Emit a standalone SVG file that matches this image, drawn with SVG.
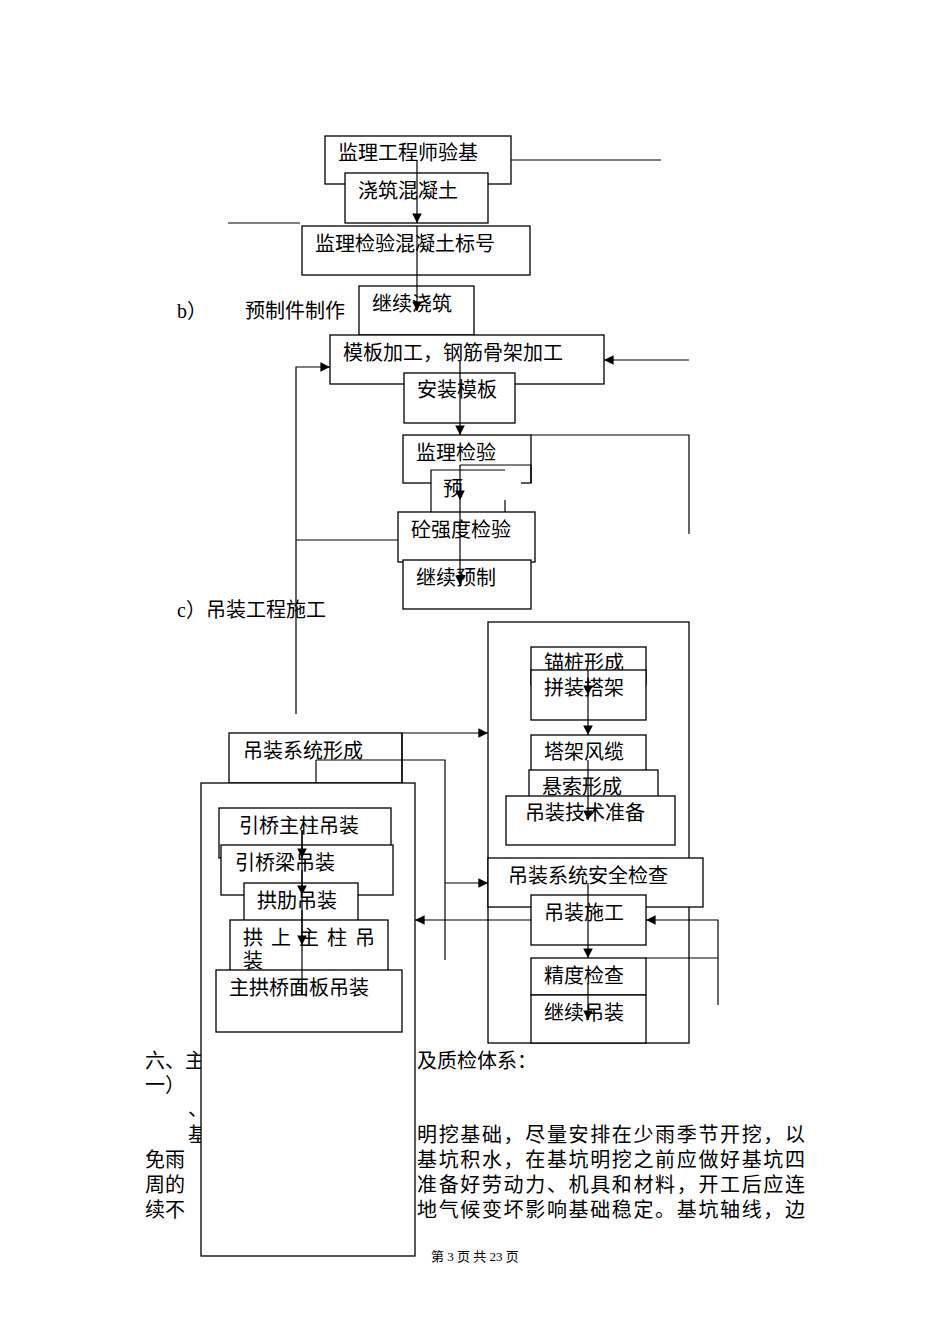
<svg xmlns="http://www.w3.org/2000/svg" width="950" height="1344" viewBox="0 0 950 1344">
<style>
.b{fill:#fff;stroke:#000;stroke-width:1.3}
.t{font-family:"Liberation Serif","Noto Sans CJK SC",serif;font-size:20px;fill:#000}
.l{stroke:#000;stroke-width:1.2;fill:none}
</style>
<defs><marker id="a" viewBox="0 0 10 10" refX="10" refY="5" markerWidth="8" markerHeight="8" orient="auto"><path d="M0,0L10,5L0,10z"/></marker></defs>
<rect width="950" height="1344" fill="#fff"/>
<g id="body">
<text class="t" x="145" y="1068">六、主</text>
<text class="t" x="417" y="1068">及质检体系：</text>
<text class="t" x="145" y="1092">一）</text>
<text class="t" x="188" y="1116">、</text>
<text class="t" x="188" y="1142">基</text>
<text class="t" x="417" y="1142" textLength="388">明挖基础，尽量安排在少雨季节开挖，以</text>
<text class="t" x="145" y="1167">免雨</text>
<text class="t" x="417" y="1167" textLength="388">基坑积水，在基坑明挖之前应做好基坑四</text>
<text class="t" x="145" y="1192">周的</text>
<text class="t" x="417" y="1192" textLength="388">准备好劳动力、机具和材料，开工后应连</text>
<text class="t" x="145" y="1217">续不</text>
<text class="t" x="417" y="1217" textLength="388">地气候变坏影响基础稳定。基坑轴线，边</text>
<text x="475" y="1261" text-anchor="middle" style="font-family:'Liberation Serif','Noto Sans CJK SC',serif;font-size:13px">第 3 页 共 23 页</text>
</g>
<g id="labels">
<text class="t" x="177" y="318">b）</text>
<text class="t" x="245" y="318">预制件制作</text>
<text class="t" x="177" y="617">c）吊装工程施工</text>
</g>
<g id="n1"><rect class="b" x="325" y="136" width="186" height="48"/><text class="t" x="338" y="160">监理工程师验基</text></g>
<g id="n2"><rect class="b" x="345" y="173" width="143" height="50"/><text class="t" x="358" y="198">浇筑混凝土</text></g>
<g id="n3"><rect class="b" x="302" y="226" width="228" height="49"/><text class="t" x="315" y="251">监理检验混凝土标号</text></g>
<g id="n4"><rect class="b" x="359" y="286" width="115" height="49"/><text class="t" x="372" y="311">继续浇筑</text></g>
<g id="n5"><rect class="b" x="330" y="335" width="274" height="49"/><text class="t" x="343" y="360">模板加工，钢筋骨架加工</text></g>
<g id="n6"><rect class="b" x="404" y="373" width="111" height="50"/><text class="t" x="417" y="397">安装模板</text></g>
<g id="n7"><rect class="b" x="403" y="435" width="128" height="48"/><text class="t" x="416" y="460">监理检验</text></g>
<g id="n8"><rect x="431" y="470" width="90" height="50" fill="#fff"/><path class="l" d="M505,470H431V520"/><path class="l" d="M505,500V520"/><text class="t" x="443" y="496">预</text></g>
<g id="n9"><rect class="b" x="398" y="512" width="137" height="50"/><text class="t" x="411" y="537">砼强度检验</text></g>
<g id="n10"><rect class="b" x="403" y="560" width="128" height="49"/><text class="t" x="416" y="585">继续预制</text></g>
<g id="n11"><rect class="b" x="488" y="622" width="201" height="421"/></g>
<g id="n12"><rect class="b" x="531" y="647" width="115" height="38"/><text class="t" x="544" y="670">锚桩形成</text></g>
<g id="n13"><rect class="b" x="531" y="670" width="115" height="50"/><text class="t" x="544" y="695">拼装搭架</text></g>
<g id="n14"><rect class="b" x="531" y="735" width="115" height="38"/><text class="t" x="544" y="759">塔架风缆</text></g>
<g id="n15"><rect class="b" x="529" y="770" width="129" height="30"/><text class="t" x="542" y="794">悬索形成</text></g>
<g id="n16"><rect class="b" x="506" y="796" width="169" height="49"/><text class="t" x="525" y="820">吊装技术准备</text></g>
<g id="n17"><rect class="b" x="488" y="858" width="215" height="49"/><text class="t" x="508" y="883">吊装系统安全检查</text></g>
<g id="n18"><rect class="b" x="531" y="895" width="115" height="50"/><text class="t" x="544" y="920">吊装施工</text></g>
<g id="n19"><rect class="b" x="531" y="958" width="115" height="37"/><text class="t" x="544" y="983">精度检查</text></g>
<g id="n20"><rect class="b" x="531" y="995" width="115" height="48"/><text class="t" x="544" y="1020">继续吊装</text></g>
<g id="n21"><rect class="b" x="229" y="733" width="173" height="50"/><text class="t" x="243" y="758">吊装系统形成</text></g>
<g id="n22"><rect class="b" x="201" y="783" width="214" height="473"/></g>
<g id="n23"><rect class="b" x="219" y="808" width="172" height="50"/><text class="t" x="239" y="833">引桥主柱吊装</text></g>
<g id="n24"><rect class="b" x="221" y="845" width="172" height="50"/><text class="t" x="235" y="870">引桥梁吊装</text></g>
<g id="n25"><rect class="b" x="244" y="883" width="114" height="40"/><text class="t" x="257" y="908">拱肋吊装</text></g>
<g id="n26"><rect class="b" x="230" y="920" width="158" height="55"/><text class="t" x="243" y="945" textLength="132">拱上主柱吊</text><text class="t" x="243" y="968">装</text></g>
<g id="n27"><rect class="b" x="216" y="970" width="186" height="62"/><text class="t" x="229" y="995">主拱桥面板吊装</text></g>
<g id="connectors">
<path class="l" d="M511,160H661"/>
<path class="l" d="M228,223H300"/>
<path class="l" d="M417,160V223" marker-end="url(#a)"/>
<path class="l" d="M417,226V311" marker-end="url(#a)"/>
<path class="l" d="M460,360V435" marker-end="url(#a)"/>
<path class="l" d="M531,435H689V534"/>
<path class="l" d="M689,360H604" marker-end="url(#a)"/>
<path class="l" d="M460,465H531V483"/>
<path class="l" d="M460,465V500" marker-end="url(#a)"/>
<path class="l" d="M460,500V585" marker-end="url(#a)"/>
<path class="l" d="M296,714V367H330" marker-end="url(#a)"/>
<path class="l" d="M296,540H398"/>
<path class="l" d="M402,733H488" marker-end="url(#a)"/>
<path class="l" d="M402,733V783"/>
<path class="l" d="M316,760H445V960"/>
<path class="l" d="M316,760V783"/>
<path class="l" d="M445,883H488" marker-end="url(#a)"/>
<path class="l" d="M302,830V995" />
<path class="l" d="M302,830V858" marker-end="url(#a)"/>
<path class="l" d="M302,870V895" marker-end="url(#a)"/>
<path class="l" d="M302,910V945" marker-end="url(#a)"/>
<path class="l" d="M588,670V695" marker-end="url(#a)"/>
<path class="l" d="M588,695V735" marker-end="url(#a)"/>
<path class="l" d="M588,760V820" marker-end="url(#a)"/>
<path class="l" d="M588,883V958" marker-end="url(#a)"/>
<path class="l" d="M588,983V1020" marker-end="url(#a)"/>
<path class="l" d="M531,920H415" marker-end="url(#a)"/>
<path class="l" d="M718,1005V920H646" marker-end="url(#a)"/>
<path class="l" d="M646,958H718"/>
</g>
</svg>
